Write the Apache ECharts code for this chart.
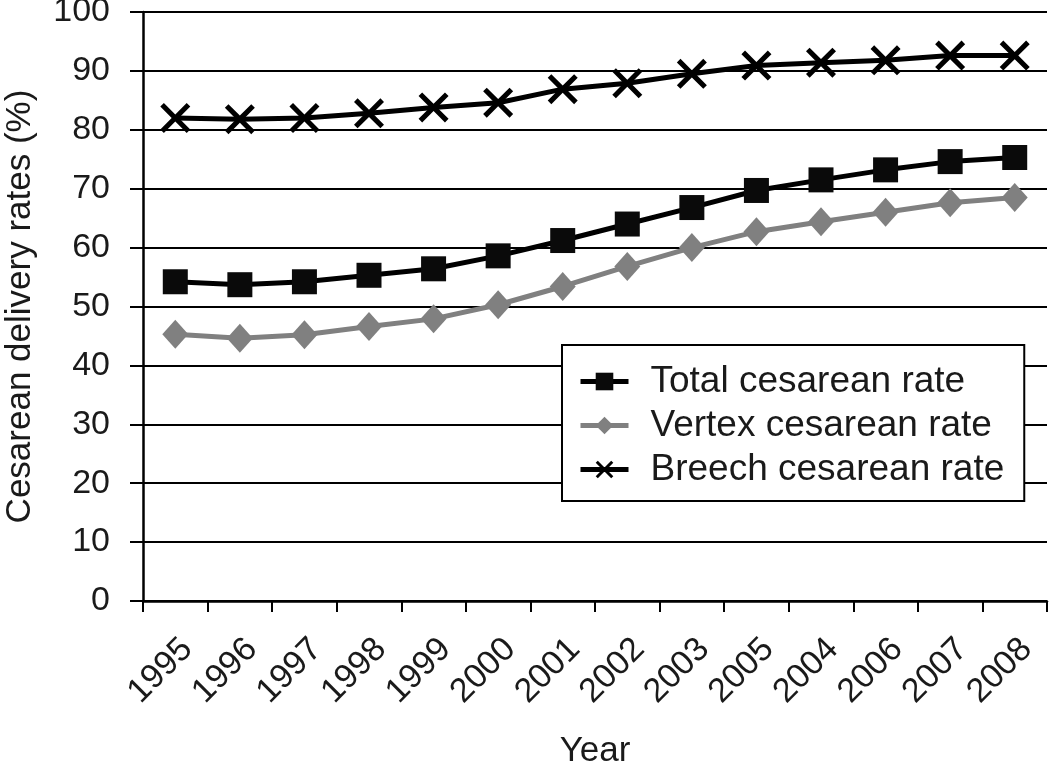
<!DOCTYPE html>
<html>
<head>
<meta charset="utf-8">
<script src="https://cdn.jsdelivr.net/npm/echarts@6/dist/echarts.min.js"></script>
<style>
  html, body { margin: 0; padding: 0; background: #fff; }
  #chart { width: 1050px; height: 766px; }
</style>
</head>
<body>
<div id="chart"></div>
<script>
const years = ['1995','1996','1997','1998','1999','2000','2001','2002','2003','2005','2004','2006','2007','2008'];
const totalRate  = [54.2, 53.7, 54.2, 55.3, 56.4, 58.6, 61.2, 64.0, 66.8, 69.7, 71.5, 73.2, 74.6, 75.3];
const vertexRate = [45.3, 44.6, 45.2, 46.6, 47.9, 50.3, 53.4, 56.8, 60.0, 62.7, 64.4, 66.0, 67.6, 68.5];
const breechRate = [82.0, 81.8, 82.0, 82.8, 83.8, 84.6, 86.9, 87.9, 89.5, 90.9, 91.4, 91.8, 92.6, 92.6];
const seriesNames = ['Total cesarean rate', 'Vertex cesarean rate', 'Breech cesarean rate'];

const FONT = '"Liberation Sans", Arial, sans-serif';
const TXT = '#1a1a1a';
const xSymbol = 'path://M0,12 L12,0 L50,38 L88,0 L100,12 L62,50 L100,88 L88,100 L50,62 L12,100 L0,88 L38,50 Z';

const chart = echarts.init(document.getElementById('chart'), null, { renderer: 'canvas' });
chart.setOption({
  animation: false,
  backgroundColor: '#ffffff',
  textStyle: { fontFamily: FONT, color: TXT },
  grid: { left: 143, right: 3, top: 12, bottom: 165, containLabel: false, outerBoundsMode: 'none' },
  legend: {
    orient: 'vertical',
    left: 562,
    top: 345,
    padding: [16, 20, 11, 16],
    itemWidth: 48,
    itemHeight: 22,
    itemGap: 3,
    backgroundColor: '#ffffff',
    borderColor: '#000',
    borderWidth: 2,
    z: 10,
    lineStyle: { width: 5 },
    textStyle: { fontSize: 37, color: TXT, fontFamily: FONT, padding: [0, 0, 0, 17], lineHeight: 41 },
    data: seriesNames
  },
  xAxis: {
    type: 'category',
    data: years,
    boundaryGap: true,
    name: 'Year',
    nameLocation: 'middle',
    nameGap: 133,
    nameTextStyle: { fontSize: 35, color: TXT, fontFamily: FONT },
    axisLine: { lineStyle: { color: '#000', width: 2.5 } },
    axisTick: { show: true, alignWithLabel: false, length: 11, lineStyle: { color: '#000', width: 2 } },
    axisLabel: { rotate: 45, fontSize: 34, color: TXT, fontFamily: FONT, margin: 31, verticalAlign: 'top', interval: 0 },
    splitLine: { show: false }
  },
  yAxis: {
    type: 'value',
    min: 0, max: 100, interval: 10,
    name: 'Cesarean delivery rates (%)',
    nameLocation: 'middle',
    nameRotate: 90,
    nameGap: 105,
    nameTextStyle: { fontSize: 35, color: TXT, fontFamily: FONT },
    axisLine: { show: true, lineStyle: { color: '#000', width: 2.5 } },
    axisTick: { show: true, length: 13, lineStyle: { color: '#000', width: 2 } },
    axisLabel: { fontSize: 34, color: TXT, fontFamily: FONT, margin: 33 },
    splitLine: { show: true, lineStyle: { color: '#000', width: 2 } }
  },
  series: [
    {
      name: seriesNames[0], type: 'line', data: totalRate,
      symbol: 'rect', symbolSize: 25,
      lineStyle: { color: '#000', width: 5 },
      itemStyle: { color: '#0a0a0a' },
      z: 3
    },
    {
      name: seriesNames[1], type: 'line', data: vertexRate,
      symbol: 'diamond', symbolSize: [26, 29],
      lineStyle: { color: '#808080', width: 5 },
      itemStyle: { color: '#808080' },
      z: 2
    },
    {
      name: seriesNames[2], type: 'line', data: breechRate,
      symbol: xSymbol, symbolSize: 30,
      lineStyle: { color: '#000', width: 5 },
      itemStyle: { color: '#000' },
      z: 4
    }
  ]
});
</script>
</body>
</html>
